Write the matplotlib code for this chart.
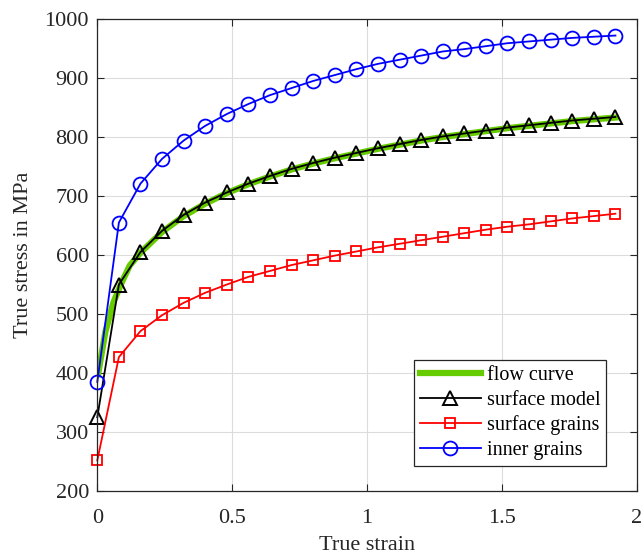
import matplotlib.pyplot as plt
import numpy as np

plt.rcParams['font.family'] = ['Liberation Serif', 'DejaVu Serif']

# strain points of the model curves
strain = np.arange(25) * 0.08

surface_model = [325, 550, 605, 641, 668, 689, 706, 721, 734, 746, 756, 765, 773,
                 781, 788, 795, 801, 806, 811, 816, 820, 824, 828, 831, 834]
surface_grains = [252, 427, 471, 498, 519, 536, 550, 563, 573, 583, 591, 599, 606,
                  613, 619, 625, 631, 637, 643, 648, 652, 657, 662, 666, 670]
inner_grains = [385, 655, 721, 763, 794, 819, 839, 856, 871, 883, 895, 905, 915,
                924, 931, 938, 945, 949, 954, 959, 962, 965, 968, 970, 972]

# flow curve (denser at the start)
flow_strain = [0.003, 0.03, 0.06, 0.09, 0.12, 0.16, 0.24, 0.32, 0.40, 0.48, 0.56,
               0.64, 0.72, 0.80, 0.88, 0.96, 1.04, 1.12, 1.20, 1.28, 1.36, 1.44,
               1.52, 1.60, 1.68, 1.76, 1.84, 1.92]
flow_stress = [398, 470, 520, 553, 582, 604, 639, 666, 687, 705, 720, 733, 745,
               755, 764, 772, 780, 787, 794, 800, 805, 810, 815, 819, 823, 827,
               830, 833]

fig = plt.figure(figsize=(6.41, 5.53), dpi=100)
ax = fig.add_axes([0.1518, 0.1121, 0.8420, 0.8535])

ax.plot(flow_strain, flow_stress, color='#66CC00', lw=4.5, label='flow curve')
ax.plot(strain, surface_model, color='black', lw=1.3, marker='^', ms=10,
        mfc='none', mew=1.4, label='surface model', clip_on=False)
ax.plot(strain, surface_grains, color='red', lw=1.3, marker='s', ms=7.5,
        mfc='none', mew=1.3, label='surface grains', clip_on=False)
ax.plot(strain, inner_grains, color='blue', lw=1.3, marker='o', ms=10,
        mfc='none', mew=1.3, label='inner grains', clip_on=False)

ax.set_xlim(0, 2)
ax.set_ylim(200, 1000)
ax.set_xticks([0, 0.5, 1, 1.5, 2])
ax.set_xticklabels(['0', '0.5', '1', '1.5', '2'])
ax.set_yticks(range(200, 1001, 100))
ax.grid(True, color='#dcdcdc', lw=0.8)
ax.set_axisbelow(True)
ax.tick_params(direction='in', top=True, right=True, labelsize=16,
               length=5, color='#262626', labelcolor='#262626')
ax.tick_params(axis='x', pad=13)
ax.tick_params(axis='y', pad=6)
for s in ax.spines.values():
    s.set_color('#262626')
    s.set_linewidth(0.9)

ax.set_xlabel('True strain', fontsize=16, color='#262626', labelpad=6)
ax.set_ylabel('True stress in MPa', fontsize=16, color='#262626', labelpad=8)

leg = ax.legend(loc='lower right', bbox_to_anchor=(0.943, 0.053), fontsize=14.5,
                fancybox=False, framealpha=1, edgecolor='#262626',
                handlelength=3.0, borderpad=0.3, labelspacing=0.28,
                handletextpad=0.3, borderaxespad=0)
leg.get_frame().set_linewidth(0.9)

fig.savefig('out.png', dpi=100)
